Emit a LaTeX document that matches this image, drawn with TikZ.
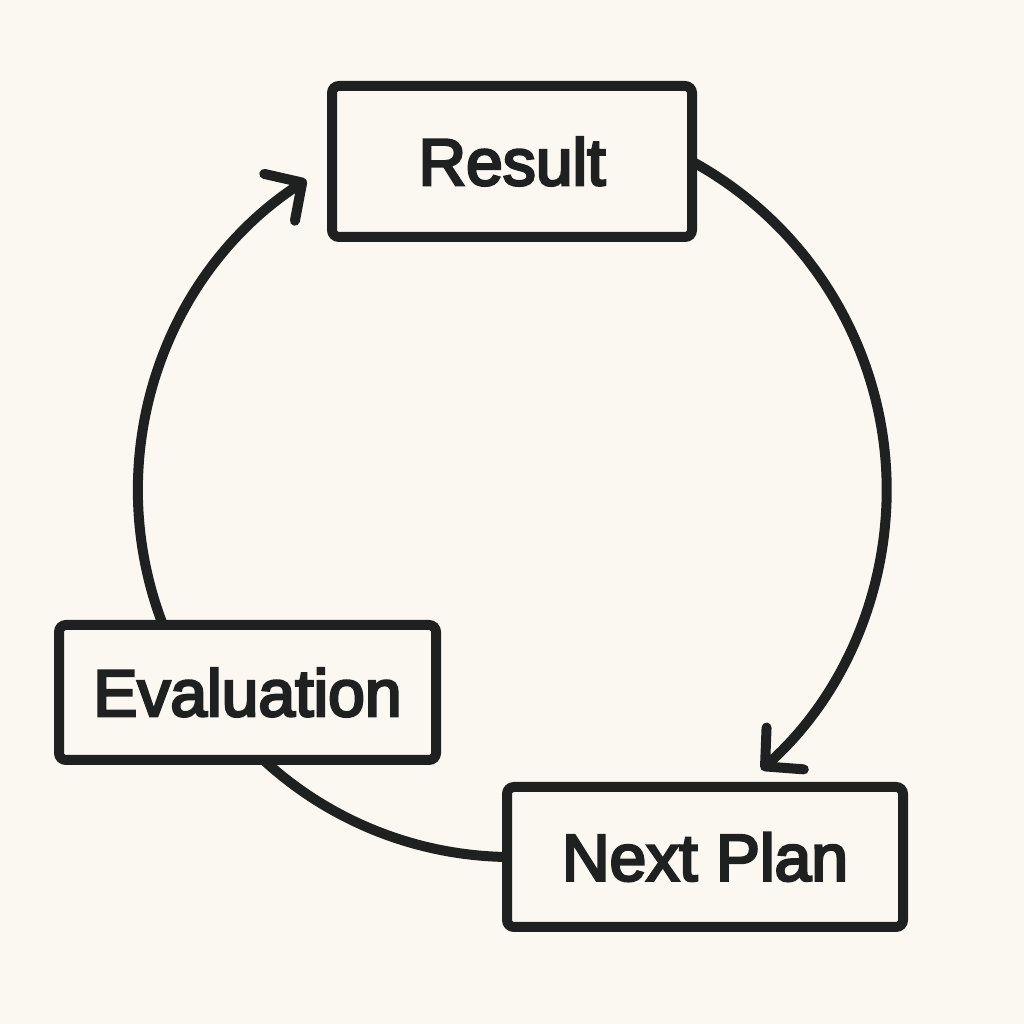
\documentclass[tikz,border=0pt]{standalone}
\usepackage{fontspec}
\usetikzlibrary{arrows.meta,calc}
\newfontfamily\labfont{Liberation Sans}[FakeBold=4]
\definecolor{bgc}{HTML}{FBF8F2}
\definecolor{ink}{HTML}{1F2020}
\tikzset{
  box/.style={draw=ink, line width=10pt, rounded corners=7pt, outer sep=0pt, inner sep=0pt,
    font=\labfont\fontsize{66}{78}\selectfont, text=ink},
  link/.style={draw=ink, line width=10pt, line cap=round},
  arr/.style={link, -{Straight Barb[length=27pt,width=56pt,line cap=round,line join=round]}}
}
\begin{document}
\begin{tikzpicture}[x=1pt,y=1pt]
\fill[bgc] (0,0) rectangle (1024,1024);
\useasboundingbox (0,0) rectangle (1024,1024);
\node[box, minimum width=360pt, minimum height=151pt] (result) at (512,862.5) {Result};
\node[box, minimum width=377pt, minimum height=135pt] (evaluation) at (247.5,331.5) {Evaluation};
\node[box, minimum width=396pt, minimum height=140pt] (nextplan) at (705,167) {Next Plan};
\draw[arr] (result.east) arc[start angle=61.3, end angle=-48.3, radius=374.6];
\draw[link] (nextplan.west) arc[start angle=269.2, end angle=227.5, radius=367];
\draw[arr] ($(evaluation.north west)+(104,0)$) arc[start angle=201.1, end angle=123.2, radius=372];
\end{tikzpicture}
\end{document}
